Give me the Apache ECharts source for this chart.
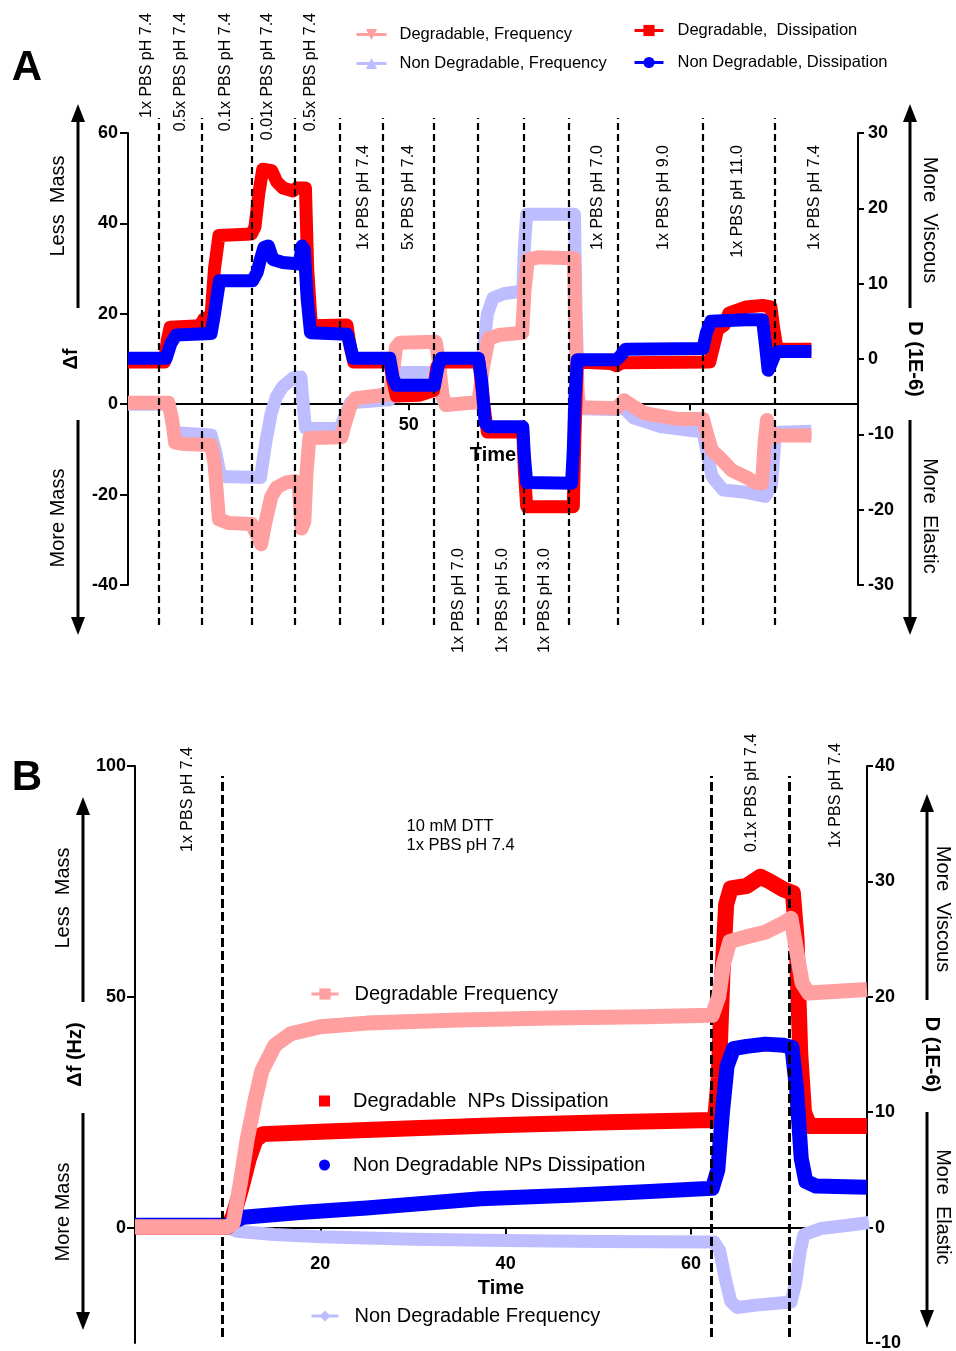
<!DOCTYPE html>
<html><head><meta charset="utf-8">
<script src="https://cdn.jsdelivr.net/npm/echarts@6/dist/echarts.min.js"></script>
<style>html,body{margin:0;padding:0;background:#fff}#c{width:956px;height:1351px}</style>
</head><body><div id="c"></div>
<script>
const FONT = '"Liberation Sans", Arial, Helvetica, sans-serif';
const PINK = '#FF9F9F', LAV = '#BDBDFF', RED = '#FF0000', BLUE = '#0000FF';

// ---------- Panel A data: [time, value] ----------
const aDegFreq = [[0,0.3],[7.2,0.3],[7.8,-3],[8.4,-8.5],[10,-8.8],[14.8,-9],[15.4,-13],[16.2,-25.5],[18,-26.3],[22,-26.5],[23,-29],[23.7,-31],[24.5,-26],[25.5,-20.5],[26.5,-18.4],[28.2,-17.3],[29.7,-17],[30.4,-17.5],[30.9,-27.5],[31.4,-26],[31.8,-15],[32.3,-7.5],[38,-7.3],[38.7,-4],[39.6,-0.5],[40.5,1.3],[46.6,2.2],[47.1,6],[47.7,12.5],[48.4,13.6],[54.8,13.8],[55.4,9],[56,2],[56.6,-0.2],[62.4,0.5],[63.2,8],[64.2,14.5],[66,15.3],[70.2,15.8],[70.6,25],[71.2,32],[73,32.5],[79.4,32.3],[79.7,16],[80,3],[80.4,-0.7],[87,-0.9],[88.3,0.9],[90,-0.5],[92,-2],[98,-3.3],[102.4,-3.3],[103.2,-7],[104,-10.2],[105.3,-11.7],[107.5,-14.6],[110.5,-16.4],[111.5,-17.3],[112.9,-17.5],[113.4,-8],[113.8,-3.5],[114.4,-6],[115.2,-7.2],[116,-6.9],[121.7,-6.9]];
const aNonFreq = [[0,0],[7.2,0],[8,-5],[8.6,-6.3],[14.8,-6.8],[15.5,-10],[16.5,-16],[23.6,-16.2],[24.1,-12],[24.6,-8],[25.5,-2],[26.4,1.6],[27.5,3.8],[29.4,5.8],[30.8,6],[31.2,0],[31.6,-5.3],[37.7,-5.4],[38.5,-3],[39.6,0.3],[46.6,1],[47.2,5],[47.8,7],[55,7],[55.8,2],[56.4,0],[62.5,0.3],[63.3,12],[64,20],[65,23.5],[67,24.5],[70.3,25],[70.6,35],[71,42],[79.5,42],[79.8,20],[80.2,1],[80.6,-1],[87,-1.2],[88,-0.5],[90,-3],[95,-5],[100,-5.8],[102.4,-6],[103,-10],[104,-16],[106,-19],[110,-19.5],[113.5,-20.4],[114.6,-18],[115.2,-8],[116,-6.2],[121.7,-6]];
const aDegDiss = [[0,-0.4],[6.5,-0.4],[7,2.5],[7.5,4.2],[12.8,4.4],[13.5,5.3],[14.8,5.8],[15.4,12],[16.2,16.4],[22,16.6],[22.6,17.5],[23.3,22],[24,25.2],[25.6,25],[26.5,23.5],[27.6,22.7],[29.4,22.3],[30,22.7],[31.6,22.7],[32,12],[32.6,5],[33,4.4],[39,4.5],[39.6,1.5],[40.2,-0.4],[46.6,-0.4],[47.2,-3],[47.8,-4.9],[52,-4.8],[54.4,-4.2],[55,-1],[55.6,-0.4],[62.5,-0.4],[63.2,-5],[64,-9.7],[70.3,-9.7],[70.6,-15],[71,-19.6],[79.3,-19.6],[79.6,-10],[80,-0.4],[86,-0.6],[87,-0.9],[88,-0.5],[103.6,-0.4],[104.4,2],[105,3.9],[106.2,4.5],[107,6.1],[108.5,6.5],[110,6.9],[113,7.1],[114.5,6.9],[115,4],[115.6,1.3],[121.7,1.3]];
const aNonDiss = [[0,0.1],[6.8,0.1],[7.6,2],[8.6,3.2],[14.8,3.4],[15.4,6],[16.3,10.4],[22.2,10.4],[23,11.5],[23.5,13],[24.2,14.8],[25,15],[25.8,13.2],[27.6,12.8],[30.5,12.6],[31,15],[31.4,14.5],[31.9,8],[32.5,3.5],[39,3.3],[39.5,2],[40.1,0.1],[46.6,0.1],[47.2,-2.5],[47.8,-3.5],[54.6,-3.5],[55.2,-1],[55.8,0.1],[62.4,0.1],[63,-3],[63.6,-8.5],[64.2,-9],[70.3,-9],[70.6,-13],[71,-16.4],[79,-16.5],[79.3,-12],[79.6,-5],[80,-0.1],[87,-0.1],[87.8,0.5],[88.6,1.3],[102.4,1.4],[103,3.5],[103.8,5],[110,5.2],[113,5.2],[113.5,2],[114,-1.5],[114.6,-0.5],[115.3,0.8],[116,1],[121.7,1]];
const aDashTimes = [5.5, 13.2, 22.1, 29.7, 37.7, 45.4, 54.4, 62.3, 70.5, 78.5, 87.3, 102.4, 115.2];
const aLabelsTop = [[3.4,'1x PBS pH 7.4'],[9.4,'0.5x PBS pH 7.4'],[17.4,'0.1x PBS pH 7.4'],[24.8,'0.01x PBS pH 7.4'],[32.6,'0.5x PBS pH 7.4']];
const aLabelsMid = [[41.9,'1x PBS pH 7.4'],[49.9,'5x PBS pH 7.4'],[83.6,'1x PBS pH 7.0'],[95.4,'1x PBS pH 9.0'],[108.5,'1x PBS pH 11.0'],[122.3,'1x PBS pH 7.4']];
const aLabelsLow = [[58.9,'1x PBS pH 7.0'],[66.7,'1x PBS pH 5.0'],[74.2,'1x PBS pH 3.0']];
const aLeftTicks = [-40, 60, 20];   // min, max, interval
const aRightTicks = [-30, 30, 10];
const aTimeRange = [0, 130], aTimeTicks = [50, 100], aTimeLabels = [50];

// ---------- Panel B data ----------
const bDegFreq = [[0,0.2],[10,0.2],[10.6,1],[11.4,10],[12.1,19],[13,28],[13.7,34],[15.1,39.5],[16.8,42],[20,43.5],[25,44.3],[35,45],[45,45.4],[55,45.7],[62.3,46],[63,50],[63.5,57],[64.2,62],[66,63],[68,64],[70,66],[70.8,67],[71.4,60],[72,53],[72.7,50.8],[79,51.6]];
const bDegDiss = [[0,0.1],[10,0.1],[10.6,1],[11.5,3.5],[12.3,6],[13,7.6],[13.8,8.1],[20,8.3],[30,8.6],[40,8.9],[50,9.1],[61,9.3],[62.6,9.3],[63,13],[63.4,22],[63.8,28],[64.3,29.4],[66,29.6],[67.5,30.4],[68.5,30],[70,29.3],[71,29],[71.4,25],[71.8,15],[72.2,10],[72.8,8.8],[79,8.8]];
const bNonDiss = [[0,0.2],[10,0.2],[10.6,0.5],[11.7,0.9],[17.8,1.3],[25,1.7],[37.3,2.5],[47,2.8],[55,3.1],[62.3,3.4],[62.9,5],[63.4,10],[63.9,14],[64.6,15.5],[66,15.7],[68,15.9],[70,15.8],[70.9,15.6],[71.4,12],[71.9,6],[72.4,4],[73.5,3.6],[79,3.5]];
const bNonFreq = [[0,0],[10,0],[11,-0.8],[15,-1.5],[20,-2],[30,-2.5],[40,-2.8],[50,-3],[62.5,-3.1],[63.1,-5],[63.7,-11],[64.3,-16],[65,-17.3],[67,-16.8],[70.8,-16.1],[71.3,-12],[71.8,-5],[72.2,-1.5],[74,-0.2],[77,0.5],[79.2,1.1]];
const bDashTimes = [9.45, 62.2, 70.6];
const bLabels = [[5.7,'1x PBS pH 7.4'],[66.5,'0.1x PBS pH 7.4'],[75.6,'1x PBS pH 7.4']];
const bNote = [29.3, ['10 mM DTT', '1x PBS pH 7.4']];
const bLeftRange = [-25, 100, 25], bLeftTicks = [0, 50, 100];
const bRightTicks = [-10, 40, 10];
const bTimeRange = [0, 79], bTimeTicks = [20, 40, 60];

const chart = echarts.init(document.getElementById('c'), null, {renderer: 'canvas'});

// layout of the two plot boxes
const GA = {left: 128, top: 133, width: 730, height: 452};
const GB = {left: 135, top: 766, width: 732, height: 577};
// the time axis sits on the zero of the left axis: shift it up from the box bottom
const zeroShift = (g, lo, hi) => -g.height * (0 - lo) / (hi - lo);

const axLine = {show: true, onZero: false, lineStyle: {color: '#000', width: 2}};
const axTick = (len, extra) => Object.assign({show: true, length: len, lineStyle: {color: '#000', width: 2}}, extra || {});
const axLab = (size, margin, extra) => Object.assign({color: '#000', fontWeight: 'bold', fontSize: size, fontFamily: FONT, margin: margin}, extra || {});
const nameStyle = size => ({color: '#000', fontWeight: 'bold', fontSize: size, fontFamily: FONT});

function lineSeries(name, data, color, width, xi, yi, symbol, rot, z) {
  return {
    name, type: 'line', data, xAxisIndex: xi, yAxisIndex: yi,
    symbol, symbolRotate: rot || 0, showSymbol: false, smooth: false,
    lineStyle: {color, width, join: 'round', cap: 'butt'},
    itemStyle: {color}, silent: true, z: z, animation: false
  };
}
function dashSeries(xi, yi, times, width, dash) {
  return {
    type: 'line', data: [], xAxisIndex: xi, yAxisIndex: yi, silent: true, z: 10,
    markLine: {silent: true, animation: false, symbol: ['none', 'none'], label: {show: false},
      lineStyle: {color: '#000', width: width, type: dash},
      emphasis: {disabled: true},
      data: times.map(t => ({xAxis: t}))}
  };
}
const legTxt = (size, padL) => ({color: '#000', fontSize: size, fontFamily: FONT, padding: [0, 0, 0, padL]});
const gridOf = (g) => Object.assign({outerBoundsMode: 'none', containLabel: false}, g);

const option = {
  animation: false,
  grid: [
    gridOf(GA),
    gridOf(GB),
    gridOf({left: 128, top: 118, width: 730, height: 507}),
    gridOf({left: 135, top: 776, width: 732, height: 561})
  ],
  xAxis: [
    {gridIndex: 0, type: 'value', min: aTimeRange[0], max: aTimeRange[1],
     offset: zeroShift(GA, aLeftTicks[0], aLeftTicks[1]),
     axisLine: axLine,
     axisTick: axTick(6, {customValues: aTimeTicks}),
     axisLabel: axLab(18, 12, {customValues: aTimeLabels}),
     splitLine: {show: false},
     name: 'Time', nameLocation: 'middle', nameGap: 41, nameTextStyle: nameStyle(20)},
    {gridIndex: 1, type: 'value', min: bTimeRange[0], max: bTimeRange[1],
     offset: zeroShift(GB, bLeftRange[0], bLeftRange[1]),
     axisLine: axLine,
     axisTick: axTick(7, {customValues: bTimeTicks}),
     axisLabel: axLab(18, 27, {customValues: bTimeTicks}),
     splitLine: {show: false},
     name: 'Time', nameLocation: 'middle', nameGap: 51, nameTextStyle: nameStyle(20)},
    {gridIndex: 2, type: 'value', min: aTimeRange[0], max: aTimeRange[1], show: false},
    {gridIndex: 3, type: 'value', min: bTimeRange[0], max: bTimeRange[1], show: false}
  ],
  yAxis: [
    {gridIndex: 0, type: 'value', position: 'left', min: aLeftTicks[0], max: aLeftTicks[1], interval: aLeftTicks[2],
     axisLine: axLine, axisTick: axTick(8), axisLabel: axLab(18, 10), splitLine: {show: false},
     name: 'Δf', nameLocation: 'middle', nameGap: 46, nameRotate: 90, nameTextStyle: nameStyle(20)},
    {gridIndex: 0, type: 'value', position: 'right', min: aRightTicks[0], max: aRightTicks[1], interval: aRightTicks[2],
     axisLine: axLine, axisTick: axTick(6), axisLabel: axLab(18, 10), splitLine: {show: false},
     name: 'D (1E-6)', nameLocation: 'middle', nameGap: 42, nameRotate: -90, nameTextStyle: nameStyle(20)},
    {gridIndex: 1, type: 'value', position: 'left', min: bLeftRange[0], max: bLeftRange[1], interval: bLeftRange[2],
     axisLine: axLine, axisTick: axTick(8, {customValues: bLeftTicks}), axisLabel: axLab(18, 9, {customValues: bLeftTicks}),
     splitLine: {show: false},
     name: 'Δf (Hz)', nameLocation: 'middle', nameGap: 42, nameRotate: 90, nameTextStyle: nameStyle(20)},
    {gridIndex: 1, type: 'value', position: 'right', min: bRightTicks[0], max: bRightTicks[1], interval: bRightTicks[2],
     axisLine: axLine, axisTick: axTick(6), axisLabel: axLab(18, 8), splitLine: {show: false},
     name: 'D (1E-6)', nameLocation: 'middle', nameGap: 55, nameRotate: -90, nameTextStyle: nameStyle(20)},
    {gridIndex: 2, type: 'value', min: 0, max: 1, show: false},
    {gridIndex: 3, type: 'value', min: 0, max: 1, show: false}
  ],
  legend: [
    {data: ['Degradable, Frequency', 'Non Degradable, Frequency'], orient: 'vertical', left: 355, top: 26,
     itemWidth: 30, itemHeight: 14, itemGap: 12, padding: 0, selectedMode: false, lineStyle: {width: 3},
     textStyle: legTxt(16.5, 8)},
    {data: ['Degradable,  Dissipation', 'Non Degradable, Dissipation'], orient: 'vertical', left: 633, top: 22,
     itemWidth: 29, itemHeight: 14, itemGap: 15, padding: 0, selectedMode: false, lineStyle: {width: 3},
     textStyle: legTxt(16.5, 9)},
    {data: ['Degradable Frequency'], left: 310, top: 984, itemWidth: 27, itemHeight: 14, padding: 0,
     selectedMode: false, lineStyle: {width: 3}, textStyle: legTxt(20, 11)},
    {data: [{name: 'Degradable  NPs Dissipation', icon: 'rect'}], left: 319, top: 1091,
     itemWidth: 11, itemHeight: 11, padding: 0, selectedMode: false, textStyle: legTxt(20, 18)},
    {data: [{name: 'Non Degradable NPs Dissipation', icon: 'circle'}], left: 319, top: 1155,
     itemWidth: 11, itemHeight: 11, padding: 0, selectedMode: false, textStyle: legTxt(20, 18)},
    {data: ['Non Degradable Frequency'], left: 310, top: 1306, itemWidth: 27, itemHeight: 14, padding: 0,
     selectedMode: false, lineStyle: {width: 3}, textStyle: legTxt(20, 11)}
  ],
  series: [
    lineSeries('Non Degradable, Frequency', aNonFreq, LAV, 13, 0, 0, 'triangle', 0, 2),
    lineSeries('Degradable, Frequency', aDegFreq, PINK, 14, 0, 0, 'triangle', 180, 3),
    lineSeries('Degradable,  Dissipation', aDegDiss, RED, 13, 0, 1, 'rect', 0, 4),
    lineSeries('Non Degradable, Dissipation', aNonDiss, BLUE, 13, 0, 1, 'circle', 0, 5),
    lineSeries('Non Degradable Frequency', bNonFreq, LAV, 13, 1, 2, 'diamond', 0, 2),
    lineSeries('Degradable  NPs Dissipation', bDegDiss, RED, 16, 1, 3, 'rect', 0, 3),
    lineSeries('Non Degradable NPs Dissipation', bNonDiss, BLUE, 15, 1, 3, 'circle', 0, 4),
    lineSeries('Degradable Frequency', bDegFreq, PINK, 15, 1, 2, 'rect', 0, 5),
    dashSeries(2, 4, aDashTimes, 2.2, [7, 4]),
    dashSeries(3, 5, bDashTimes, 3, [9, 4])
  ]
};
chart.setOption(option);

// ---------- annotations (text, arrows) ----------
function txt(text, x, y, rot, size, align, bold, vAlign) {
  return {type: 'text', x, y, rotation: rot, silent: true, z: 20,
    style: {text, fill: '#000', font: (bold ? 'bold ' : '') + size + 'px ' + FONT, align, verticalAlign: vAlign || 'middle'}};
}
function arrow(x, yBase, yTip) {
  const dir = yTip < yBase ? 1 : -1;
  const head = 18, hw = 7;
  return [
    {type: 'line', silent: true, z: 20, shape: {x1: x, y1: yBase, x2: x, y2: yTip + dir * (head - 2)}, style: {stroke: '#000', lineWidth: 3}},
    {type: 'polygon', silent: true, z: 20, shape: {points: [[x, yTip], [x - hw, yTip + dir * head], [x + hw, yTip + dir * head]]}, style: {fill: '#000'}}
  ];
}
const R90 = Math.PI / 2;
const px = (xi, t) => chart.convertToPixel({xAxisIndex: xi}, t);
const g = [];
g.push(txt('A', 27, 68, 0, 42, 'center', true));
g.push(txt('B', 27, 778, 0, 42, 'center', true));
aLabelsTop.forEach(([t, s]) => g.push(txt(s, px(0, t), 13, R90, 16, 'right')));
aLabelsMid.forEach(([t, s]) => g.push(txt(s, px(0, t), 145, R90, 16, 'right')));
aLabelsLow.forEach(([t, s]) => g.push(txt(s, px(0, t), 548, R90, 16, 'right')));
g.push(txt(bLabels[0][1], px(1, bLabels[0][0]), 852, R90, 16, 'left'));
g.push(txt(bLabels[1][1], px(1, bLabels[1][0]), 852, R90, 16, 'left'));
g.push(txt(bLabels[2][1], px(1, bLabels[2][0]), 848, R90, 16, 'left'));
g.push(txt(bNote[1][0], px(1, bNote[0]), 826, 0, 16.5, 'left'));
g.push(txt(bNote[1][1], px(1, bNote[0]), 845, 0, 16.5, 'left'));
g.push(txt('Less  Mass', 58, 206, R90, 20, 'center'));
g.push(txt('More Mass', 58, 518, R90, 20, 'center'));
g.push(txt('More  Viscous', 930, 220, -R90, 20, 'center'));
g.push(txt('More  Elastic', 930, 516, -R90, 20, 'center'));
g.push(txt('Less  Mass', 63, 898, R90, 20, 'center'));
g.push(txt('More Mass', 63, 1212, R90, 20, 'center'));
g.push(txt('More  Viscous', 943, 909, -R90, 20, 'center'));
g.push(txt('More  Elastic', 943, 1207, -R90, 20, 'center'));
[[78, 308, 104], [78, 420, 635], [910, 308, 104], [910, 420, 635],
 [83, 1002, 797], [83, 1113, 1330], [927, 1000, 794], [927, 1112, 1328]].forEach(a => g.push(...arrow(a[0], a[1], a[2])));
chart.setOption({graphic: {elements: g}});
</script>
</body></html>
